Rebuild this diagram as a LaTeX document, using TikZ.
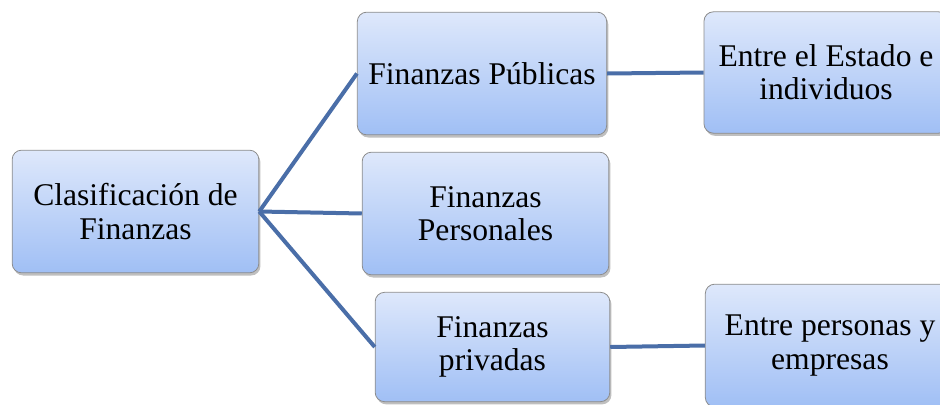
\documentclass[tikz,border=0pt]{standalone}
\usepackage{fontspec}
\setmainfont{Liberation Serif}
\usetikzlibrary{shadows}
\definecolor{linea}{RGB}{74,110,168}
\definecolor{arriba}{RGB}{222,232,251}
\definecolor{abajo}{RGB}{160,191,245}
\tikzset{caja/.style = {rectangle, rounded corners=7pt, draw=black!45, line width=0.6pt,
                        top color=arriba, bottom color=abajo, align=center, inner sep=2pt,
                        font=\fontsize{23.7pt}{24.8pt}\selectfont,
                        drop shadow={shadow xshift=1.2pt, shadow yshift=-2pt, fill=black, opacity=.25}},
         rama/.style = {line width=3pt, draw=linea}}

\begin{document}
\begin{tikzpicture}[x=0.75pt, y=-0.75pt]
    \useasboundingbox (0,0) rectangle (940,404);
    \clip (0,0) rectangle (940,404);
    \node[caja, minimum width=185pt, minimum height=92pt] (raiz) at (135.5,211.5) {Clasificación de\\Finanzas};
    \node[caja, minimum width=187pt, minimum height=92pt] (pub) at (482,73.5) {Finanzas Públicas};
    \node[caja, minimum width=185pt, minimum height=92pt] (per) at (485.5,213.5) {Finanzas\\Personales};
    \node[caja, minimum width=176pt, minimum height=82pt] (pri) at (492.5,347) {Finanzas\\privadas};
    \node[caja, minimum width=183pt, minimum height=91pt] (est) at (826,72.5) {Entre el Estado e\\individuos};
    \node[caja, minimum width=187pt, minimum height=92pt] (emp) at (830,345.5) {Entre personas y\\empresas};
    \draw[rama] (raiz.east) -- (pub.west);
    \draw[rama] (raiz.east) -- (per.west);
    \draw[rama] (raiz.east) -- (pri.west);
    \draw[rama] (pub.east) -- (est.west);
    \draw[rama] (pri.east) -- (emp.west);
\end{tikzpicture}
\end{document}
